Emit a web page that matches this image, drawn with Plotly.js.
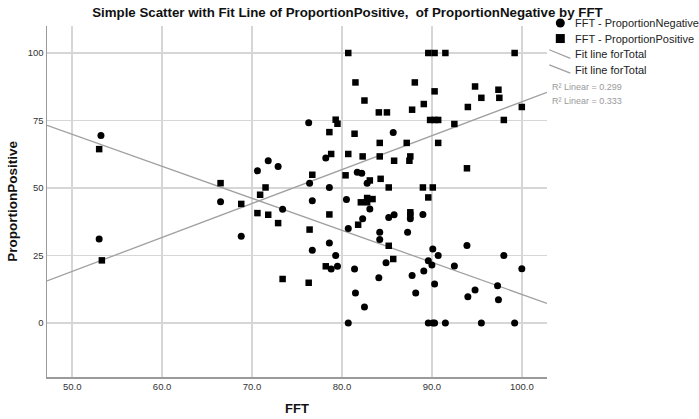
<!DOCTYPE html>
<html><head><meta charset="utf-8">
<script src="https://cdn.plot.ly/plotly-3.0.1.min.js"></script>
<style>html,body{margin:0;padding:0;background:#fff}#chart{width:699px;height:419px}</style>
</head><body><div id="chart"></div>
<script>
// FFT - ProportionNegative (circles)
const fftNeg = [53.2,53.0,66.5,68.8,70.6,71.8,72.9,73.4,76.3,76.4,76.7,76.7,78.2,78.6,78.6,78.8,79.3,79.5,80.5,80.7,80.7,81.4,81.5,81.7,82.2,82.3,82.5,82.8,83.1,84.1,84.2,84.2,84.9,85.2,85.7,85.8,87.3,87.6,87.8,88.2,89.0,89.1,89.6,90.0,90.1,90.7,90.3,92.5,93.9,94.0,94.8,97.3,97.4,98.0,100.0,89.6,90.1,90.3,91.5,95.5,99.2];
const propNeg = [69.4,31.1,44.9,32.1,56.4,60.1,58.0,42.1,74.2,51.8,45.3,26.9,61.1,50.2,29.6,20.0,25.0,21.0,45.7,35.0,0,20.0,11.1,55.8,55.5,38.6,5.9,51.8,42.2,16.8,33.6,30.9,22.3,39.1,70.6,40.1,33.6,38.6,17.6,11.1,40.2,19.3,23.1,21.5,27.4,25.0,14.4,21.1,28.7,9.7,12.2,13.8,8.6,25.0,20.1,0,0,0,0,0,0];
// FFT - ProportionPositive (squares)
const fftPos = [53.0,53.3,66.5,68.8,70.6,70.9,71.5,71.8,72.9,73.4,76.3,76.4,76.7,78.2,78.6,78.6,78.8,79.3,79.5,80.4,80.7,80.7,81.4,81.5,81.8,82.1,82.3,82.5,82.8,82.8,83.1,83.4,84.1,84.2,84.2,84.3,85.0,85.2,85.2,85.7,85.8,87.2,87.5,87.6,87.6,87.6,87.8,88.1,89.0,89.1,89.6,90.3,89.6,89.8,90.3,90.7,90.1,90.3,90.7,91.5,92.5,93.9,94.0,94.8,95.5,97.4,97.5,98.0,99.2,100.0];
const propPos = [64.4,23.2,51.8,44.1,40.7,47.5,50.2,40.1,37.0,16.3,14.9,34.6,54.9,21.0,70.7,40.2,62.6,75.3,73.8,54.7,100,62.6,70.1,89.1,36.4,44.7,61.7,82.4,46.3,44.7,52.8,45.9,78.0,66.7,61.7,53.4,78.0,50.2,28.6,23.7,60.1,66.7,60.1,61.7,41.0,40.0,79.0,89.1,50.2,81.1,100,100,46.5,75.2,75.2,75.2,50.2,85.8,66.7,100,73.7,57.3,80.0,87.6,83.4,86.4,83.4,75.2,100,80.0];
const xTicks = [50,60,70,80,90,100];
const xTickText = ['50.0','60.0','70.0','80.0','90.0','100.0'];
const yTicks = [0,25,50,75,100];
const yTickText = ['0','25','50','75','100'];
const legendLabels = ['FFT - ProportionNegative','FFT - ProportionPositive','Fit line forTotal','Fit line forTotal'];
const r2Labels = ['R\u00b2 Linear = 0.299','R\u00b2 Linear = 0.333'];

const xRange = [47.2, 102.8];
const yRange = [-20, 110];

function linfit(xs, ys){
  const n = xs.length; let sx=0,sy=0,sxx=0,sxy=0;
  for(let i=0;i<n;i++){sx+=xs[i];sy+=ys[i];sxx+=xs[i]*xs[i];sxy+=xs[i]*ys[i];}
  const b=(n*sxy-sx*sy)/(n*sxx-sx*sx); const a=(sy-b*sx)/n; return [a,b];
}
const fN = linfit(fftNeg, propNeg), fP = linfit(fftPos, propPos);
const lineX = xRange.slice();
const FONT = 'Liberation Sans, Arial, sans-serif';

const traces = [
  {x: lineX, y: lineX.map(v=>fN[0]+fN[1]*v), mode:'lines', line:{color:'#a0a0a0', width:1.3}, hoverinfo:'skip', showlegend:false},
  {x: lineX, y: lineX.map(v=>fP[0]+fP[1]*v), mode:'lines', line:{color:'#a0a0a0', width:1.3}, hoverinfo:'skip', showlegend:false},
  {x: fftNeg, y: propNeg, mode:'markers', name: legendLabels[0], marker:{symbol:'circle', size:7, color:'#000'}, showlegend:false},
  {x: fftPos, y: propPos, mode:'markers', name: legendLabels[1], marker:{symbol:'square', size:6.5, color:'#000'}, showlegend:false}
];

const L=46.7, W=500, B=377, H=350;
const px = p => (p-L)/W, py = p => (B-p)/H;

const shapes = [
  {type:'circle', xref:'paper', yref:'paper', xsizemode:'pixel', ysizemode:'pixel', xanchor:px(560), yanchor:py(24), x0:-4.5,x1:4.5,y0:-4.5,y1:4.5, fillcolor:'#000', line:{width:0}},
  {type:'rect', xref:'paper', yref:'paper', xsizemode:'pixel', ysizemode:'pixel', xanchor:px(560), yanchor:py(39.5), x0:-4.5,x1:4.5,y0:-4.5,y1:4.5, fillcolor:'#000', line:{width:0}},
  {type:'line', xref:'paper', yref:'paper', x0:px(549), y0:py(50.7), x1:px(570), y1:py(59.3), line:{color:'#a0a0a0', width:1.3}},
  {type:'line', xref:'paper', yref:'paper', x0:px(549), y0:py(65.7), x1:px(570), y1:py(74), line:{color:'#a0a0a0', width:1.3}}
];
const ann = (t,x,y,size,color,xa,extra) => Object.assign({text:t, xref:'paper', yref:'paper', x:px(x), y:py(y), xanchor:xa||'left', yanchor:'middle', showarrow:false, font:{family:FONT, size:size, color:color}}, extra||{});
const annotations = [
  ann(legendLabels[0], 573, 24, 11, '#222'),
  ann(legendLabels[1], 573, 40, 11, '#222'),
  ann(legendLabels[2], 573, 55, 11, '#222'),
  ann(legendLabels[3], 573, 70.7, 11, '#222'),
  ann(r2Labels[0], 550, 88, 9, '#9a9a9a'),
  ann(r2Labels[1], 550, 102, 9, '#9a9a9a'),
  ann('<b>FFT</b>', 296.7, 408, 13, '#111', 'center'),
  ann('<b>ProportionPositive</b>', 12, 202, 13.5, '#111', 'center', {textangle:-90})
];

const layout = {
  width:699, height:419,
  margin:{l:46.7, r:152.3, t:26, b:42},
  paper_bgcolor:'#fff', plot_bgcolor:'#fff',
  title:{text:'<b>Simple Scatter with Fit Line of ProportionPositive,  of ProportionNegative by FFT</b>', x:0.497, xanchor:'center', y:1-12/419, yanchor:'middle', yref:'container', font:{family:FONT, size:13.3, color:'#111'}},
  xaxis:{range:xRange, tickvals:xTicks, ticktext:xTickText, showgrid:true, gridcolor:'#d6d6d6', gridwidth:1.5, zeroline:false, showline:true, linecolor:'#9a9a9a', linewidth:1.5, ticks:'', tickfont:{family:FONT, size:9.5, color:'#333'}},
  yaxis:{range:yRange, tickvals:yTicks, ticktext:yTickText, showgrid:true, gridcolor:'#d6d6d6', gridwidth:1.5, zeroline:false, showline:true, linecolor:'#9a9a9a', linewidth:1.5, ticks:'', tickfont:{family:FONT, size:9.5, color:'#333'}},
  shapes:shapes, annotations:annotations, showlegend:false
};
Plotly.newPlot('chart', traces, layout, {displayModeBar:false, staticPlot:true});
</script></body></html>
